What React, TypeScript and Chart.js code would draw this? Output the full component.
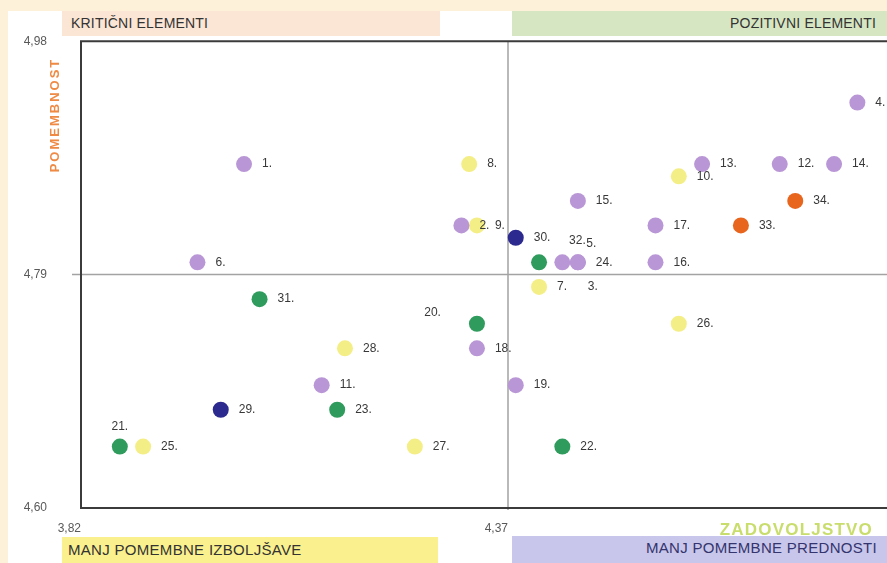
import React, { useEffect, useRef } from 'react';
import { Chart, registerables } from 'chart.js';

Chart.register(...registerables);

// ---- data ----
const pointLabels = ['1.', '2.', '3.', '4.', '5.', '6.', '7.', '8.', '9.', '10.', '11.', '12.', '13.', '14.', '15.', '16.', '17.', '18.', '19.', '20.', '21.', '22.', '23.', '24.', '25.', '26.', '27.', '28.', '29.', '30.', '31.', '32.', '33.', '34.'];
const satisfaction = [4.03, 4.31, 4.46, 4.82, 4.44, 3.97, 4.41, 4.32, 4.33, 4.59, 4.13, 4.72, 4.62, 4.79, 4.46, 4.56, 4.56, 4.33, 4.38, 4.33, 3.87, 4.44, 4.15, 4.46, 3.90, 4.59, 4.25, 4.16, 4.00, 4.38, 4.05, 4.41, 4.67, 4.74];
const importance = [4.88, 4.83, 4.80, 4.93, 4.80, 4.80, 4.78, 4.88, 4.83, 4.87, 4.70, 4.88, 4.88, 4.88, 4.85, 4.80, 4.83, 4.73, 4.70, 4.75, 4.65, 4.65, 4.68, 4.80, 4.65, 4.75, 4.65, 4.73, 4.68, 4.82, 4.77, 4.80, 4.83, 4.85];
const groups = ['P', 'P', 'P', 'P', 'P', 'P', 'Y', 'Y', 'Y', 'Y', 'P', 'P', 'P', 'P', 'P', 'P', 'P', 'P', 'P', 'G', 'G', 'G', 'G', 'P', 'Y', 'Y', 'Y', 'Y', 'N', 'N', 'G', 'G', 'O', 'O'];
const groupOrder = ['P', 'Y', 'G', 'N', 'O'];
const xTicks = [3.82, 4.37];
const yTicks = [4.60, 4.79, 4.98];
const xMin = 3.82;
const xMax = 4.92;
const yMin = 4.60;
const yMax = 4.98;
const xMid = 4.37;
const yMid = 4.79;

// ---- styles ----
const groupColors: Record<string, string> = {
  P: '#b996d5',
  Y: '#f4ee86',
  G: '#2f9b5c',
  N: '#2c2a8e',
  O: '#e8651e',
};
const labelPlacement: Record<string, [number, number, CanvasTextAlign]> = {
  '21.': [0, -20, 'center'],
  '32.': [30, -22, 'left'],
  '5.': [24, -19, 'left'],
  '3.': [10, 24, 'left'],
  '20.': [-36, -11, 'right'],
};
const defaultPlacement: [number, number, CanvasTextAlign] = [18, 0, 'left'];

const fmt = (v: number) => v.toFixed(2).replace('.', ',');

const decorPlugin = {
  id: 'decor',
  beforeDatasetsDraw(chart: any) {
    const { ctx, chartArea: a, scales } = chart;
    const cx = scales.x.getPixelForValue(xMid);
    const cy = scales.y.getPixelForValue(yMid);
    ctx.save();
    ctx.strokeStyle = '#a3a3a3';
    ctx.lineWidth = 1.5;
    ctx.beginPath();
    ctx.moveTo(cx, a.top);
    ctx.lineTo(cx, a.bottom + 2);
    ctx.moveTo(a.left - 9, cy);
    ctx.lineTo(a.right, cy);
    ctx.stroke();
    ctx.strokeStyle = '#3b3b3b';
    ctx.lineWidth = 2;
    ctx.beginPath();
    ctx.moveTo(a.right, a.top);
    ctx.lineTo(a.left, a.top);
    ctx.lineTo(a.left, a.bottom);
    ctx.lineTo(a.right, a.bottom);
    ctx.stroke();
    ctx.translate(55, 115);
    ctx.rotate(-Math.PI / 2);
    ctx.font = 'bold 13px "Liberation Sans", Arial, sans-serif';
    (ctx as any).letterSpacing = '2px';
    ctx.fillStyle = '#ef8a45';
    ctx.textAlign = 'center';
    ctx.textBaseline = 'middle';
    ctx.fillText('POMEMBNOST', 0, 0);
    ctx.restore();
  },
  afterDatasetsDraw(chart: any) {
    const { ctx } = chart;
    ctx.save();
    ctx.font = '12px "Liberation Sans", Arial, sans-serif';
    ctx.fillStyle = '#383838';
    ctx.textBaseline = 'middle';
    chart.data.datasets.forEach((ds: any, di: number) => {
      const meta = chart.getDatasetMeta(di);
      ds.data.forEach((pt: any, i: number) => {
        const el = meta.data[i];
        const [dx, dy, align] = labelPlacement[pt.label] || defaultPlacement;
        ctx.textAlign = align;
        ctx.fillText(pt.label, el.x + dx, el.y + dy);
      });
    });
    ctx.restore();
  },
};

export default function App() {
  const ref = useRef<HTMLCanvasElement>(null);
  useEffect(() => {
    if (!ref.current) return;
    const datasets = groupOrder.map((g) => ({
      label: g,
      data: pointLabels
        .map((l, i) => ({ x: satisfaction[i], y: importance[i], label: l, g: groups[i] }))
        .filter((p) => p.g === g),
      backgroundColor: groupColors[g],
      borderWidth: 0,
      pointRadius: 8,
      pointHoverRadius: 8,
    }));
    const chart = new Chart(ref.current, {
      type: 'scatter',
      data: { datasets },
      options: {
        responsive: false,
        animation: false,
        layout: { padding: { left: 0, top: 40, right: 25, bottom: 0 } },
        plugins: { legend: { display: false }, tooltip: { enabled: false }, title: { display: false } },
        scales: {
          x: {
            type: 'linear',
            min: xMin,
            max: xMax,
            afterBuildTicks: (s: any) => { s.ticks = xTicks.map((v) => ({ value: v })); },
            afterFit: (s: any) => { s.height = 55; },
            grid: { display: false, drawTicks: false },
            border: { display: false },
            ticks: {
              padding: 13,
              align: 'end',
              font: { size: 12, family: '"Liberation Sans", Arial, sans-serif' },
              color: '#595959',
              callback: (v: any) => fmt(Number(v)),
            },
          },
          y: {
            type: 'linear',
            min: yMin,
            max: yMax,
            afterBuildTicks: (s: any) => { s.ticks = yTicks.map((v) => ({ value: v })); },
            afterFit: (s: any) => { s.width = 81; },
            grid: { display: false, drawTicks: false },
            border: { display: false },
            ticks: {
              padding: 34,
              font: { size: 12, family: '"Liberation Sans", Arial, sans-serif' },
              color: '#595959',
              callback: (v: any) => fmt(Number(v)),
            },
          },
        },
      },
      plugins: [decorPlugin],
    } as any);
    return () => chart.destroy();
  }, []);

  const box = (extra: React.CSSProperties): React.CSSProperties => ({
    position: 'absolute',
    boxSizing: 'border-box',
    fontFamily: '"Liberation Sans", Arial, sans-serif',
    color: '#333333',
    whiteSpace: 'nowrap',
    ...extra,
  });

  return (
    <div style={{ position: 'fixed', left: 0, top: 0, width: 887, height: 563, overflow: 'hidden', background: '#fdf2d9' }}>
      <div style={{ position: 'absolute', left: 8, top: 11, right: 0, bottom: 0, background: '#ffffff' }} />
      <canvas ref={ref} width={960} height={563} style={{ position: 'absolute', left: 0, top: 0, width: 960, height: 563 }} />
      <div style={box({ left: 62, top: 11, width: 378, height: 25, lineHeight: '25px', background: '#fbe5d5', paddingLeft: 9, fontSize: 14, letterSpacing: '0.2px' })}>KRITIČNI ELEMENTI</div>
      <div style={box({ left: 512, top: 11, width: 375, height: 25, lineHeight: '25px', background: '#d7e6c2', paddingRight: 11, textAlign: 'right', fontSize: 14, letterSpacing: '0.2px' })}>POZITIVNI ELEMENTI</div>
      <div style={box({ right: 14, top: 521, fontSize: 17, lineHeight: '18px', fontWeight: 'bold', color: '#c8dd6c', letterSpacing: '1.2px' })}>ZADOVOLJSTVO</div>
      <div style={box({ left: 62, top: 537, width: 376, height: 26, lineHeight: '26px', background: '#faf08e', paddingLeft: 6, fontSize: 15, letterSpacing: '0.3px' })}>MANJ POMEMBNE IZBOLJŠAVE</div>
      <div style={box({ left: 512, top: 536, width: 375, height: 27, lineHeight: '24px', background: '#c8c6ea', paddingRight: 10, textAlign: 'right', fontSize: 15, letterSpacing: '0.3px', color: '#34346e' })}>MANJ POMEMBNE PREDNOSTI</div>
    </div>
  );
}
